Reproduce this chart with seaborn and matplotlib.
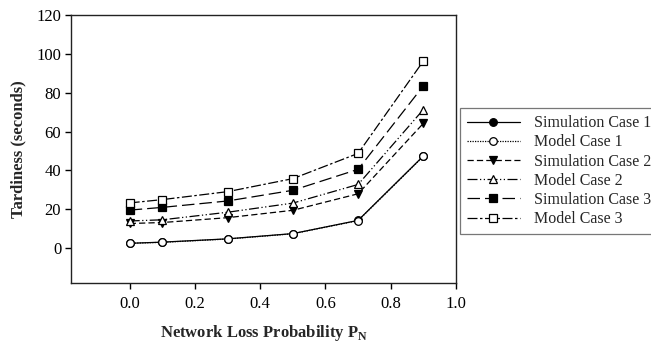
import pandas as pd
import seaborn as sns
from matplotlib import pyplot as plt

# Values
loss_prob = [0.0, 0.1, 0.3, 0.5, 0.7, 0.9]
sim_case1 = [2.5, 3.1, 4.8, 7.5, 14.3, 47.5]
model_case1 = [2.5, 3.0, 4.7, 7.4, 14.2, 47.3]
sim_case2 = [12.7, 13.2, 15.7, 19.5, 28.0, 64.3]
model_case2 = [14.0, 14.6, 18.5, 23.2, 32.8, 71.4]
sim_case3 = [19.6, 21.0, 24.3, 29.8, 40.6, 83.6]
model_case3 = [23.3, 25.0, 29.1, 35.8, 48.8, 96.4]

series = ['Simulation Case 1', 'Model Case 1', 'Simulation Case 2',
          'Model Case 2', 'Simulation Case 3', 'Model Case 3']
values = [sim_case1, model_case1, sim_case2, model_case2, sim_case3, model_case3]

rows = []
for name, ys in zip(series, values):
    for x, y in zip(loss_prob, ys):
        rows.append({'p': x, 'tardiness': y, 'series': name})
df = pd.DataFrame(rows)

sns.set_style('ticks')
plt.rcParams['font.family'] = ['Liberation Serif', 'DejaVu Serif']
plt.rcParams['mathtext.fontset'] = 'custom'
plt.rcParams['mathtext.rm'] = 'Liberation Serif'
plt.rcParams['mathtext.bf'] = 'Liberation Serif:bold'

markers = {'Simulation Case 1': 'o', 'Model Case 1': 'o',
           'Simulation Case 2': 'v', 'Model Case 2': '^',
           'Simulation Case 3': 's', 'Model Case 3': 's'}
dashes = {'Simulation Case 1': '', 'Model Case 1': (1, 1),
          'Simulation Case 2': (5, 2.5), 'Model Case 2': (8, 2, 1, 2, 1, 2),
          'Simulation Case 3': (10, 4), 'Model Case 3': (8, 2, 2, 2)}
filled = {'Simulation Case 1': True, 'Model Case 1': False,
          'Simulation Case 2': True, 'Model Case 2': False,
          'Simulation Case 3': True, 'Model Case 3': False}

fig = plt.figure(figsize=(6.51, 3.44), dpi=100)
ax = fig.add_axes([0.109, 0.177, 0.5915, 0.779])

sns.lineplot(data=df, x='p', y='tardiness', hue='series', style='series',
             hue_order=series, style_order=series,
             palette={s: 'black' for s in series}, markers=markers, dashes=dashes,
             markersize=5.5, linewidth=0.9, markeredgecolor='black',
             legend=False, ax=ax)

for line, name in zip(ax.lines, series):
    line.set_markerfacecolor('black' if filled[name] else 'white')
    line.set_markeredgewidth(0.9)
    line.set_label(name)

ax.set_xlim(-0.18, 1.0)
ax.set_ylim(-18, 120)
ax.set_xticks([0.0, 0.2, 0.4, 0.6, 0.8, 1.0])
ax.set_xticklabels(['0.0', '0.2', '0.4', '0.6', '0.8', '1.0'])
ax.set_yticks([0, 20, 40, 60, 80, 100, 120])
ax.tick_params(direction='out', length=4, width=1, labelsize=12, colors='black')
ax.tick_params(axis='x', pad=5)
ax.tick_params(axis='y', pad=3)
for sp in ax.spines.values():
    sp.set_visible(True)
    sp.set_color('#222222')
    sp.set_linewidth(1.0)

ax.set_xlabel(r'Network Loss Probability P$_\mathbf{N}$', fontsize=12, fontweight='bold', labelpad=8)
ax.set_ylabel('Tardiness (seconds)', fontsize=12, fontweight='bold', labelpad=7)

leg = fig.legend(handles=ax.lines, labels=series, loc='upper left',
                 bbox_to_anchor=(0.706, 0.686), fontsize=11.5, frameon=True,
                 fancybox=False, handlelength=3.3, handletextpad=0.9,
                 labelspacing=0.2, borderpad=0.45, borderaxespad=0)
leg.get_frame().set_edgecolor('#555555')
leg.get_frame().set_linewidth(0.9)

fig.savefig('out.png', dpi=100)
